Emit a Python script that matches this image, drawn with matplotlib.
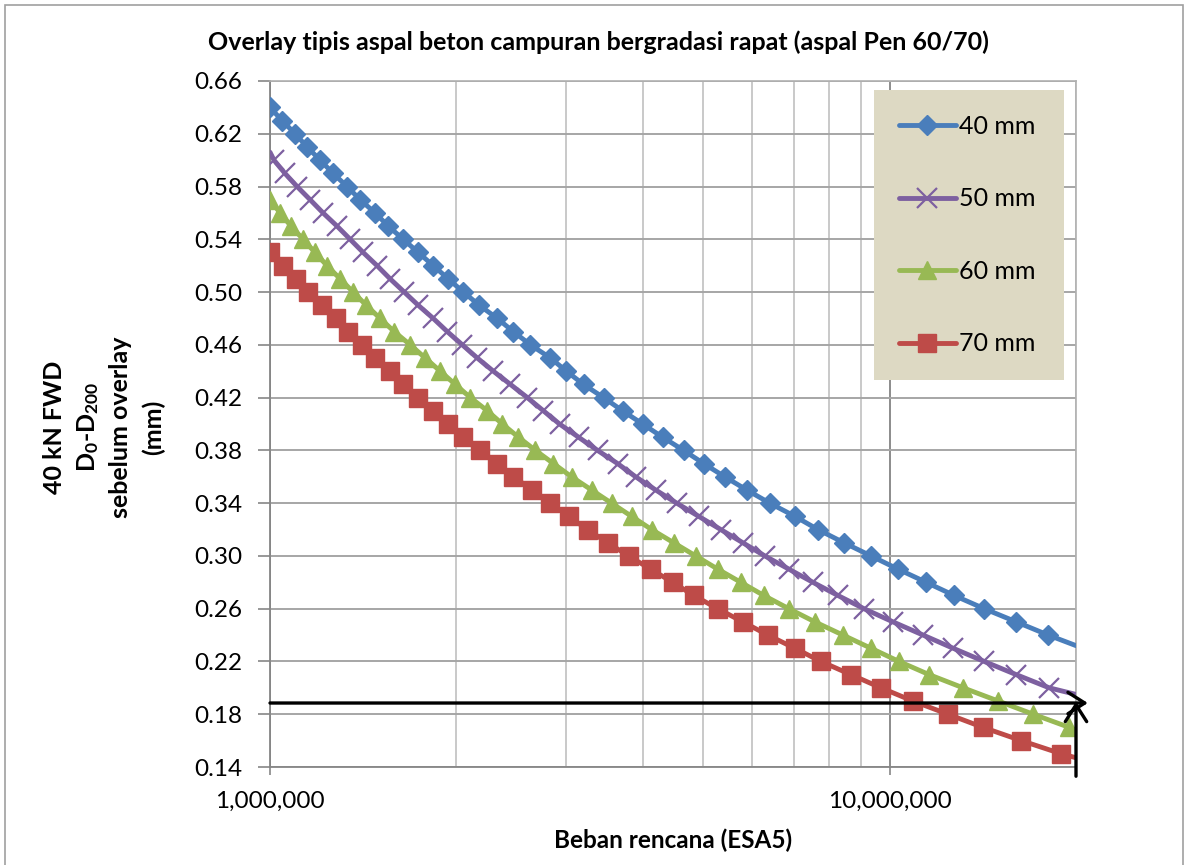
import matplotlib
matplotlib.use('Agg')
import matplotlib.pyplot as plt
from matplotlib.ticker import FixedLocator, FixedFormatter, NullFormatter
import matplotlib.patches as mpatches

plt.rcParams['font.family'] = ['Lato', 'DejaVu Sans']
plt.rcParams['mathtext.fontset'] = 'custom'
plt.rcParams['mathtext.rm'] = 'Lato'
plt.rcParams['mathtext.bf'] = 'Lato:bold'
plt.rcParams['mathtext.it'] = 'Lato:italic'

# ---------------- data (ESA in millions, deflection D0-D200 in mm) ----------------
title = "Overlay tipis aspal beton campuran bergradasi rapat (aspal Pen 60/70)"
xlabel = "Beban rencana (ESA5)"
ylabel_lines = ["40 kN FWD", r"$\mathbf{D_0}$-$\mathbf{D_{200}}$", "sebelum overlay", "(mm)"]
labels = ["40 mm", "50 mm", "60 mm", "70 mm"]

esa_40 = [1.000, 1.046, 1.098, 1.148, 1.205, 1.264, 1.332, 1.398, 1.478, 1.552,
          1.641, 1.735, 1.835, 1.940, 2.052, 2.177, 2.328, 2.471, 2.633, 2.836,
          3.010, 3.207, 3.455, 3.708, 3.995, 4.303, 4.653, 5.013, 5.421, 5.883,
          6.409, 7.035, 7.664, 8.442, 9.335, 10.32, 11.46, 12.72, 14.22, 16.02,
          18.04, 20.0]
def_40 = [0.64, 0.63, 0.62, 0.61, 0.60, 0.59, 0.58, 0.57, 0.56, 0.55,
          0.54, 0.53, 0.52, 0.51, 0.50, 0.49, 0.48, 0.47, 0.46, 0.45,
          0.44, 0.43, 0.42, 0.41, 0.40, 0.39, 0.38, 0.37, 0.36, 0.35,
          0.34, 0.33, 0.32, 0.31, 0.30, 0.29, 0.28, 0.27, 0.26, 0.25,
          0.24, 0.232]

esa_50 = [1.000, 1.015, 1.057, 1.106, 1.161, 1.218, 1.283, 1.347, 1.414, 1.489,
          1.563, 1.647, 1.735, 1.835, 1.933, 2.044, 2.161, 2.294, 2.444, 2.603,
          2.763, 2.933, 3.148, 3.378, 3.640, 3.892, 4.193, 4.534, 4.921, 5.341,
          5.797, 6.291, 6.879, 7.522, 8.256, 9.095, 10.13, 11.33, 12.67, 14.22,
          16.02, 18.11, 20.0]
def_50 = [0.606, 0.60, 0.59, 0.58, 0.57, 0.56, 0.55, 0.54, 0.53, 0.52,
          0.51, 0.50, 0.49, 0.48, 0.47, 0.46, 0.45, 0.44, 0.43, 0.42,
          0.41, 0.40, 0.39, 0.38, 0.37, 0.36, 0.35, 0.34, 0.33, 0.32,
          0.31, 0.30, 0.29, 0.28, 0.27, 0.26, 0.25, 0.24, 0.23, 0.22,
          0.21, 0.20, 0.195]

esa_60 = [1.000, 1.038, 1.081, 1.131, 1.182, 1.236, 1.298, 1.362, 1.430, 1.506,
          1.587, 1.684, 1.781, 1.883, 1.991, 2.106, 2.243, 2.372, 2.518, 2.682,
          2.868, 3.067, 3.304, 3.559, 3.834, 4.131, 4.483, 4.866, 5.281, 5.754,
          6.268, 6.879, 7.578, 8.411, 9.335, 10.36, 11.59, 13.15, 14.98, 17.06,
          19.51, 20.0]
def_60 = [0.57, 0.56, 0.55, 0.54, 0.53, 0.52, 0.51, 0.50, 0.49, 0.48,
          0.47, 0.46, 0.45, 0.44, 0.43, 0.42, 0.41, 0.40, 0.39, 0.38,
          0.37, 0.36, 0.35, 0.34, 0.33, 0.32, 0.31, 0.30, 0.29, 0.28,
          0.27, 0.26, 0.25, 0.24, 0.23, 0.22, 0.21, 0.20, 0.19, 0.18,
          0.17, 0.168]

esa_70 = [1.000, 1.050, 1.102, 1.152, 1.214, 1.279, 1.337, 1.409, 1.478, 1.563,
          1.641, 1.735, 1.835, 1.940, 2.052, 2.186, 2.328, 2.471, 2.652, 2.836,
          3.033, 3.255, 3.507, 3.792, 4.115, 4.467, 4.830, 5.281, 5.797, 6.362,
          7.035, 7.750, 8.665, 9.689, 10.91, 12.43, 14.16, 16.32, 18.94, 20.0]
def_70 = [0.53, 0.52, 0.51, 0.50, 0.49, 0.48, 0.47, 0.46, 0.45, 0.44,
          0.43, 0.42, 0.41, 0.40, 0.39, 0.38, 0.37, 0.36, 0.35, 0.34,
          0.33, 0.32, 0.31, 0.30, 0.29, 0.28, 0.27, 0.26, 0.25, 0.24,
          0.23, 0.22, 0.21, 0.20, 0.19, 0.18, 0.17, 0.16, 0.15, 0.147]

# reading arrows (design load / deflection limit)
arrow_deflection = 0.1885
arrow_esa = 20.0

y_ticks = [0.14, 0.18, 0.22, 0.26, 0.30, 0.34, 0.38, 0.42, 0.46, 0.50, 0.54, 0.58, 0.62, 0.66]
x_major = [1.0, 10.0]
x_major_labels = ["1,000,000", "10,000,000"]
x_minor = [2, 3, 4, 5, 6, 7, 8, 9, 20]

# ---------------- styling ----------------
colors = ["#4A7EBB", "#7D60A0", "#98B954", "#BE4B48"]
markers = ["D", "x", "^", "s"]
msizes = [10, 14, 13, 12.5]

series = [(esa_40, def_40), (esa_50, def_50), (esa_60, def_60), (esa_70, def_70)]
mark_idx = [list(range(0, len(esa_40) - 1)),
            list(range(1, len(esa_50) - 1)),
            list(range(0, len(esa_60) - 1)),
            list(range(0, len(esa_70) - 1))]

fig = plt.figure(figsize=(11.89, 8.65), dpi=100)
ax = fig.add_axes([270 / 1189, 1 - 767 / 865, (1076 - 270) / 1189, (767 - 81) / 865])

ax.set_xscale('log')
ax.set_xlim(1.0, 20.0)
ax.set_ylim(0.14, 0.66)

ax.xaxis.set_major_locator(FixedLocator(x_major))
ax.xaxis.set_major_formatter(FixedFormatter(x_major_labels))
ax.xaxis.set_minor_locator(FixedLocator(x_minor))
ax.xaxis.set_minor_formatter(NullFormatter())
ax.yaxis.set_major_locator(FixedLocator(y_ticks))
ax.set_yticklabels([f"{v:.2f}" for v in y_ticks])

ax.grid(which='major', axis='y', color='#A6A6A6', lw=1.4, zorder=0)
ax.grid(which='major', axis='x', color='#8C8C8C', lw=1.4, zorder=0)
ax.grid(which='minor', axis='x', color='#C0C0C0', lw=1.2, zorder=0)
ax.set_axisbelow(True)

for s in ['left', 'bottom']:
    ax.spines[s].set_color('#868686')
    ax.spines[s].set_linewidth(1.3)
for s in ['top', 'right']:
    ax.spines[s].set_color('#B0B0B0')
    ax.spines[s].set_linewidth(1.2)

ax.tick_params(axis='y', which='major', length=9, width=1.2, color='#868686',
               pad=11, labelsize=17.5, direction='out')
ax.tick_params(axis='x', which='major', length=6, width=1.2, color='#868686',
               pad=11, labelsize=17.5, direction='out')
ax.tick_params(axis='x', which='minor', length=0)

for (x, y), c, m, ms, idx, lab in zip(series, colors, markers, msizes, mark_idx, labels):
    if m == 'x':
        ax.plot(x, y, color=c, lw=3.5, marker=m, ms=ms, mew=1.6, markevery=idx,
                label=lab, zorder=3, solid_capstyle='round')
    else:
        ax.plot(x, y, color=c, lw=3.5, marker=m, ms=ms, mec=c, mfc=c, markevery=idx,
                label=lab, zorder=3, solid_capstyle='round')

# arrows
arrow_kw = dict(arrowstyle='->,head_length=0.55,head_width=0.35', lw=2.4, color='black',
                shrinkA=0, shrinkB=0, mutation_scale=22)
ax.annotate('', xy=(arrow_esa * 1.045, arrow_deflection), xytext=(1.0, arrow_deflection),
            arrowprops=arrow_kw, annotation_clip=False, zorder=5)
ax.annotate('', xy=(arrow_esa, arrow_deflection + 0.001), xytext=(arrow_esa, 0.133),
            arrowprops=arrow_kw, annotation_clip=False, zorder=5)

# legend
leg = ax.legend(loc='upper left', bbox_to_anchor=(0.749, 0.987, 0.236, 0.0), mode='expand',
                fontsize=18, frameon=True, fancybox=False, facecolor='#DDD9C3',
                edgecolor='none', framealpha=1.0, labelspacing=1.98, handlelength=2.3,
                handletextpad=0.12, borderpad=1.0, borderaxespad=0.0)
leg.get_frame().set_linewidth(0)
leg.set_zorder(6)

# texts
fig.text(598 / 1189, 1 - 42 / 865, title, ha='center', va='center',
         fontsize=18, fontweight='bold')
fig.text(673 / 1189, 1 - 840 / 865, xlabel, ha='center', va='center',
         fontsize=17.5, fontweight='bold')
for xp, line in zip([55, 88, 121, 153], ylabel_lines):
    fig.text(xp / 1189, 1 - 427 / 865, line, ha='center', va='center', rotation=90,
             fontsize=18, fontweight='bold')

# outer chart border
fig.patches.append(mpatches.Rectangle((5 / 1189, -0.01), (1183 - 5) / 1189, 1 - 5 / 865 + 0.01,
                                      transform=fig.transFigure, fill=False,
                                      edgecolor='#A0A0A0', lw=1.2))

fig.savefig('out.png', dpi=100)
